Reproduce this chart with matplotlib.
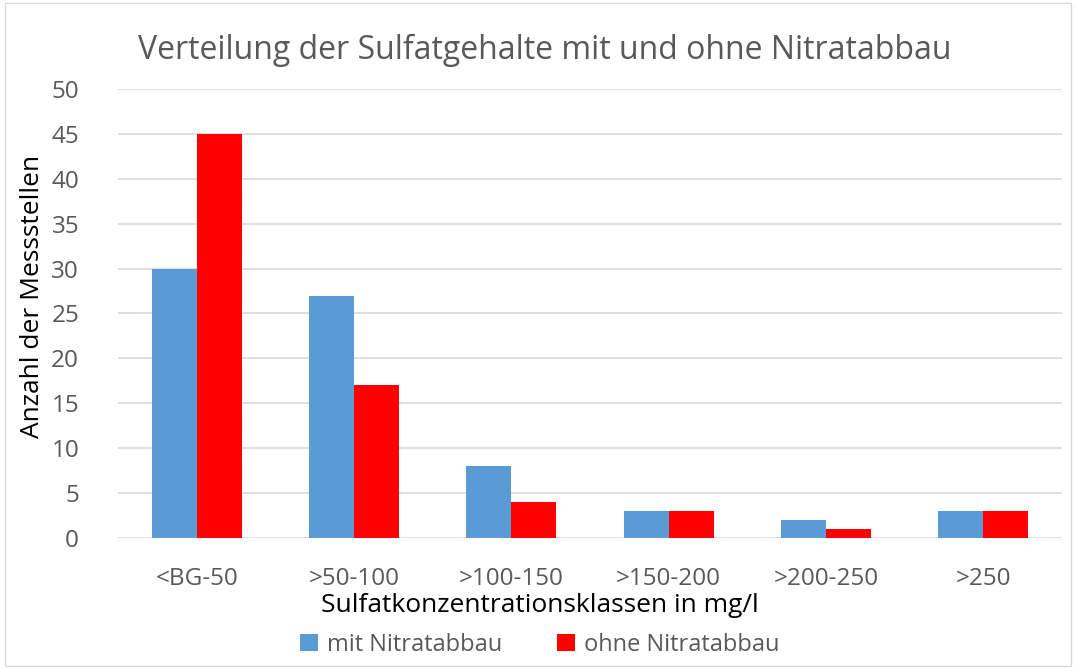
import matplotlib
matplotlib.use("Agg")
import matplotlib.pyplot as plt
import numpy as np
from matplotlib.patches import Rectangle

plt.rcParams['font.family'] = ['Open Sans', 'DejaVu Sans']

categories = ['<BG-50', '>50-100', '>100-150', '>150-200', '>200-250', '>250']
mit = [30, 27, 8, 3, 2, 3]
ohne = [45, 17, 4, 3, 1, 3]

gray = '#595959'

fig = plt.figure(figsize=(10.76, 6.68), dpi=100)
ax = fig.add_axes([118 / 1076, 1 - 538 / 668, 944 / 1076, 449 / 668])

x = np.arange(len(categories))
w = 0.286
ax.bar(x - w / 2, mit, width=w, color='#5b9bd5', label='mit Nitratabbau', zorder=3)
ax.bar(x + w / 2, ohne, width=w, color='#ff0000', label='ohne Nitratabbau', zorder=3)

ax.set_xlim(-0.5, len(categories) - 0.5)
ax.set_ylim(0, 50)
ax.set_yticks(range(0, 51, 5))
ax.yaxis.grid(True, color='#d9d9d9', linewidth=1.2, zorder=0)
ax.set_axisbelow(True)
for s in ax.spines.values():
    s.set_visible(False)
ax.tick_params(length=0, labelsize=17.5, colors=gray)
ax.tick_params(axis='y', pad=28)
ax.tick_params(axis='x', pad=21)
ax.set_xticks(x)
ax.set_xticklabels(categories)

fig.text(545 / 1076, 1 - 50 / 668, 'Verteilung der Sulfatgehalte mit und ohne Nitratabbau',
         ha='center', va='center', fontsize=23, color=gray)
fig.text(540 / 1076, 1 - 605 / 668, 'Sulfatkonzentrationsklassen in mg/l',
         ha='center', va='center', fontsize=19, color='black')
fig.text(33 / 1076, 1 - 296 / 668, 'Anzahl der Messstellen', rotation=90,
         ha='center', va='center', fontsize=19, color='black')

fig.legend(loc='center', bbox_to_anchor=(540 / 1076, 1 - 645 / 668), ncol=2,
           frameon=False, fontsize=17, labelcolor=gray, handlelength=0.75,
           handleheight=0.75, columnspacing=2.3, handletextpad=0.4)

fig.patches.append(Rectangle((5 / 1076, 2 / 668), 1066 / 1076, 663 / 668,
                             transform=fig.transFigure, fill=False,
                             edgecolor='#d9d9d9', linewidth=1))

fig.savefig('out.png', dpi=100)
